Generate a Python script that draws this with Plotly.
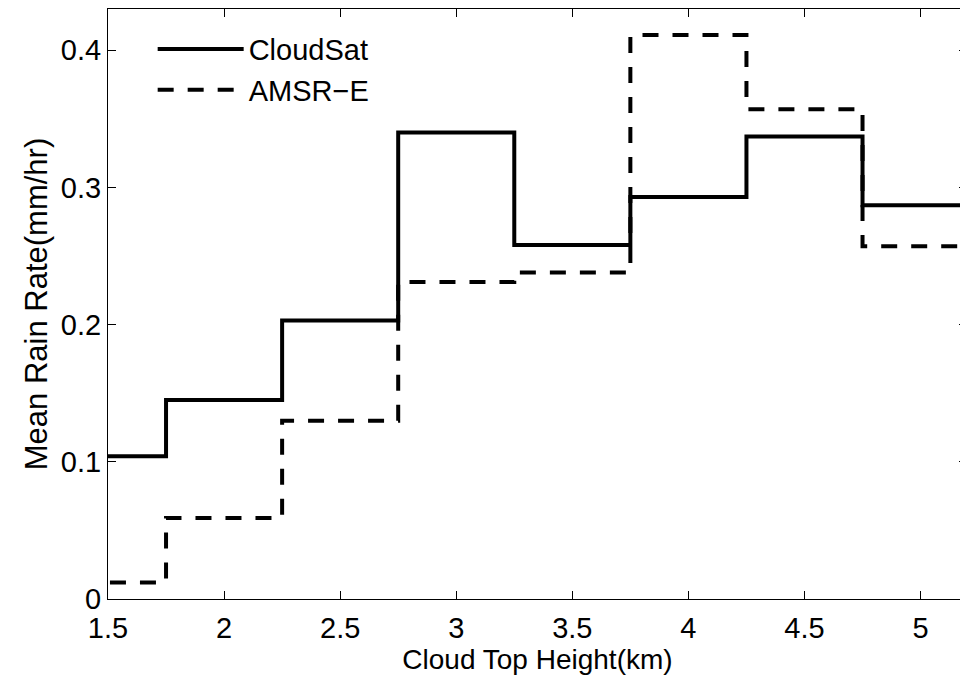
import plotly.graph_objects as go

# Bin centres (km) and mean rain rates (mm/hr)
heights = [1.5, 2.0, 2.5, 3.0, 3.5, 4.0, 4.5, 5.0]
cloudsat = [0.104, 0.145, 0.203, 0.340, 0.258, 0.293, 0.337, 0.287]
amsre = [0.012, 0.059, 0.130, 0.231, 0.238, 0.411, 0.357, 0.257]
x_ticks = [1.5, 2, 2.5, 3, 3.5, 4, 4.5, 5]
y_ticks = [0, 0.1, 0.2, 0.3, 0.4]

half = 0.25
def stairs(centres, vals):
    xs = [c - half for c in centres] + [centres[-1] + half]
    ys = list(vals) + [vals[-1]]
    return xs, ys

FONT = "Liberation Sans, Arial"
FS = 29

fig = go.Figure()
xs, ys = stairs(heights, cloudsat)
fig.add_trace(go.Scatter(x=xs, y=ys, mode="lines", name="CloudSat",
                         line=dict(color="black", width=4, shape="hv")))
xs, ys = stairs(heights, amsre)
fig.add_trace(go.Scatter(x=xs, y=ys, mode="lines", name="AMSR\u2212E",
                         line=dict(color="black", width=4, shape="hv", dash="16px,14px")))

axis_common = dict(showgrid=False, zeroline=False, showline=True, linecolor="black",
                   linewidth=1, mirror="ticks", ticks="inside", ticklen=8,
                   tickcolor="black", tickwidth=1,
                   tickfont=dict(family=FONT, size=FS, color="black"))

fig.update_layout(
    width=960, height=668,
    paper_bgcolor="white", plot_bgcolor="white",
    margin=dict(l=100, r=1, t=1, b=77),
    font=dict(family=FONT, color="black"),
    xaxis=dict(range=[1.5, 5.2], tickvals=x_ticks,
               ticktext=[f"{v:g}" for v in x_ticks],
               ticklabelstandoff=3,
               title=dict(text="Cloud Top Height(km)", standoff=0,
                          font=dict(size=28, family=FONT)),
               **axis_common),
    yaxis=dict(range=[0, 0.43], tickvals=y_ticks,
               ticktext=[f"{v:g}" for v in y_ticks],
               title=dict(text="Mean Rain Rate(mm/hr)", standoff=4,
                          font=dict(size=31, family=FONT)),
               **axis_common),
    legend=dict(x=0.052, y=0.975, xanchor="left", yanchor="top",
                bgcolor="rgba(0,0,0,0)", itemwidth=86,
                font=dict(size=FS, family=FONT),
                tracegroupgap=0),
    showlegend=True,
)

fig.write_html("out.html")
